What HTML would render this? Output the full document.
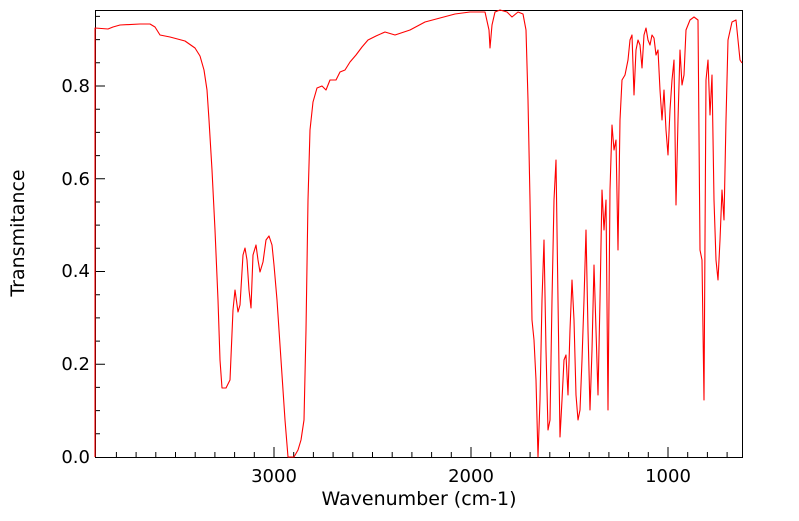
<!DOCTYPE html>
<html><head><meta charset="utf-8"><style>
body{margin:0;background:#fff;}
svg text{font-family:"DejaVu Sans","Liberation Sans",sans-serif;fill:#000;}
</style></head><body>
<svg width="799" height="516" viewBox="0 0 799 516" xmlns="http://www.w3.org/2000/svg">
<rect x="95.5" y="10.5" width="647" height="447" fill="none" stroke="#000" stroke-width="1"/>
<path stroke="#000" stroke-width="1" fill="none" d="
M116.4 457v-5M136.1 457v-5M155.8 457v-5M175.5 457v-5M195.2 457v-5M214.9 457v-5M234.6 457v-5M254.3 457v-5M274 457v-10M293.7 457v-5M313.4 457v-5M333.1 457v-5M352.8 457v-5M372.5 457v-5M392.2 457v-5M411.9 457v-5M431.6 457v-5M451.3 457v-5M471 457v-10M490.7 457v-5M510.4 457v-5M530.1 457v-5M549.8 457v-5M569.5 457v-5M589.2 457v-5M608.9 457v-5M628.6 457v-5M648.3 457v-5M668 457v-10M687.7 457v-5M707.4 457v-5M727.1 457v-5
M95 433.8h5M95 410.6h5M95 387.4h5M95 364.2h10M95 341.1h5M95 317.9h5M95 294.7h5M95 271.5h10M95 248.3h5M95 225.1h5M95 202h5M95 178.8h10M95 155.6h5M95 132.4h5M95 109.2h5M95 86h10M95 62.8h5M95 39.6h5M95 16.4h5"/>
<polyline fill="none" stroke="#ff0000" stroke-width="1.1" stroke-linejoin="round" points="
95,457 95,28 108,29 113,27 120,25 140,24 150,24 155,27 160,35 170,37 185,41 195,48 200,56 204,70 207,90 209,120 212,170 215,230 218,300 220,360 222,388 226,388 230,380 233,310 235,290 238,312 240,305 243,255 245,248 247,260 249,290 251,308 253,255 256,245 258,260 260,272 263,262 266,240 269,236 272,245 274,265 277,300 281,360 285,420 288,457 294,457 298,450 301,440 304,420 306,330 308,200 310,130 313,102 317,88 322,86 326,90 330,80 336,80 340,72 345,70 350,62 356,55 362,47 368,40 376,36 385,32 395,35 410,30 425,22 440,18 455,14 470,12 485,12 489,30 490,48 492,25 495,12 500,10 507,12 512,17 518,12 523,14 526,30 528,100 530,200 532,320 534,340 536,380 538,457 540,400 542,300 544,240 546,350 548,430 550,420 552,300 554,200 556,160 558,300 560,437 562,400 564,360 566,355 568,395 570,330 572,280 574,320 576,395 578,420 580,410 582,360 584,300 586,230 588,330 590,410 592,350 594,265 596,330 598,395 600,300 602,190 604,230 606,200 608,410 610,190 612,125 614,150 616,140 618,250 620,120 622,80 625,75 628,60 630,40 632,35 634,95 636,50 638,40 640,45 642,68 644,35 646,28 648,40 650,45 652,35 654,38 656,55 658,50 660,90 662,120 664,90 666,130 668,155 670,110 672,80 674,60 676,205 678,120 680,50 682,85 684,75 686,30 690,20 694,17 698,20 700,250 702,260 704,400 706,80 708,60 710,115 712,75 714,200 716,260 718,280 720,240 722,190 724,220 726,120 728,40 732,22 736,20 738,40 740,60 742,63"/>
<g font-size="18" text-anchor="end">
<text x="90" y="463">0.0</text>
<text x="90" y="370">0.2</text>
<text x="90" y="277">0.4</text>
<text x="90" y="185">0.6</text>
<text x="90" y="92">0.8</text>
</g>
<g font-size="18" text-anchor="middle">
<text x="274" y="482">3000</text>
<text x="471" y="482">2000</text>
<text x="668" y="482">1000</text>
</g>
<g font-size="19" text-anchor="middle">
<text x="419" y="505">Wavenumber (cm-1)</text>
<text transform="translate(24,233) rotate(-90)">Transmitance</text>
</g>
</svg>
</body></html>
